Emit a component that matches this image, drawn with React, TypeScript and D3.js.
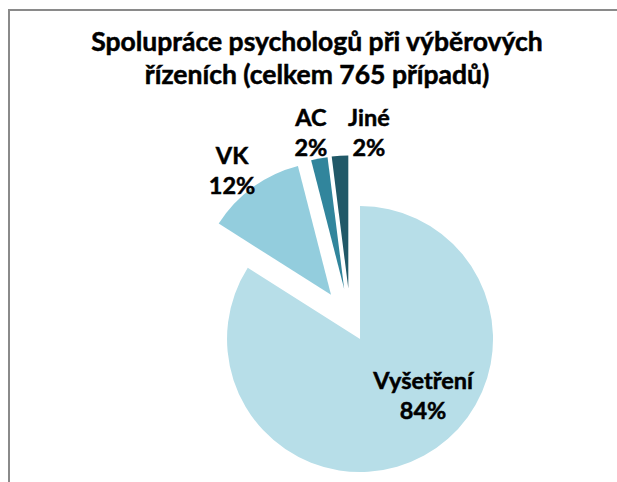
import React from 'react';
import * as d3 from 'd3';

const categories = ['Vyšetření', 'VK', 'AC', 'Jiné'];
const values = [84, 12, 2, 2];
const colors = ['#B7DEE8', '#93CDDD', '#31859C', '#215968'];
const titleLines = ['Spolupráce psychologů při výběrových', 'řízeních (celkem 765 případů)'];

// styling / layout (not data)
const explode = [20, 33, 33, 33];
const labelRadius = [90, 153, 153, 150];
const labelAngleShift = [-15.7, -4.3, -1.8, 11.5];

const W = 617;
const H = 482;
const R = 133;
const cx = 350.4;
const cy = 321.5;
const FONT = 'Lato, "Open Sans", sans-serif';

export default function App() {
  const total = d3.sum(values);
  const pie = d3.pie<number>().sort(null).startAngle(0).endAngle(2 * Math.PI).value((d) => d);
  const arcs = pie(values);
  const arc = d3.arc<d3.PieArcDatum<number>>().innerRadius(0).outerRadius(R);
  const fmt = d3.format('.0%');

  return (
    <svg width={W} height={H} style={{ position: 'absolute', left: 0, top: 0, background: '#fff' }}>
      <rect x={9} y={10} width={W + 40} height={H + 40} fill="#fff" stroke="#8a8a8a" strokeWidth={2} />
      <g fontFamily={FONT} fontWeight="bold" textAnchor="middle" fill="#000" stroke="#000" strokeWidth={0.5}>
        {titleLines.map((t, i) => (
          <text key={i} x={317} y={51 + i * 33} fontSize={26.5}>{t}</text>
        ))}
      </g>
      {arcs.map((a, i) => {
        const mid = (a.startAngle + a.endAngle) / 2;
        const ox = Math.sin(mid) * explode[i];
        const oy = -Math.cos(mid) * explode[i];
        return (
          <path key={categories[i]} d={arc(a) || ''} transform={`translate(${cx + ox},${cy + oy})`} fill={colors[i]} />
        );
      })}
      <g fontFamily={FONT} fontWeight="bold" textAnchor="middle" fill="#000" stroke="#000" strokeWidth={0.5} fontSize={23.5}>
        {arcs.map((a, i) => {
          const mid = (a.startAngle + a.endAngle) / 2;
          const ox = Math.sin(mid) * explode[i];
          const oy = -Math.cos(mid) * explode[i];
          const la = mid + (labelAngleShift[i] * Math.PI) / 180;
          const lx = cx + ox + Math.sin(la) * labelRadius[i];
          const ly = cy + oy - Math.cos(la) * labelRadius[i];
          return (
            <text key={categories[i]} x={lx} y={ly}>
              <tspan x={lx} y={ly - 14}>{categories[i]}</tspan>
              <tspan x={lx} y={ly + 16}>{fmt(values[i] / total)}</tspan>
            </text>
          );
        })}
      </g>
    </svg>
  );
}
